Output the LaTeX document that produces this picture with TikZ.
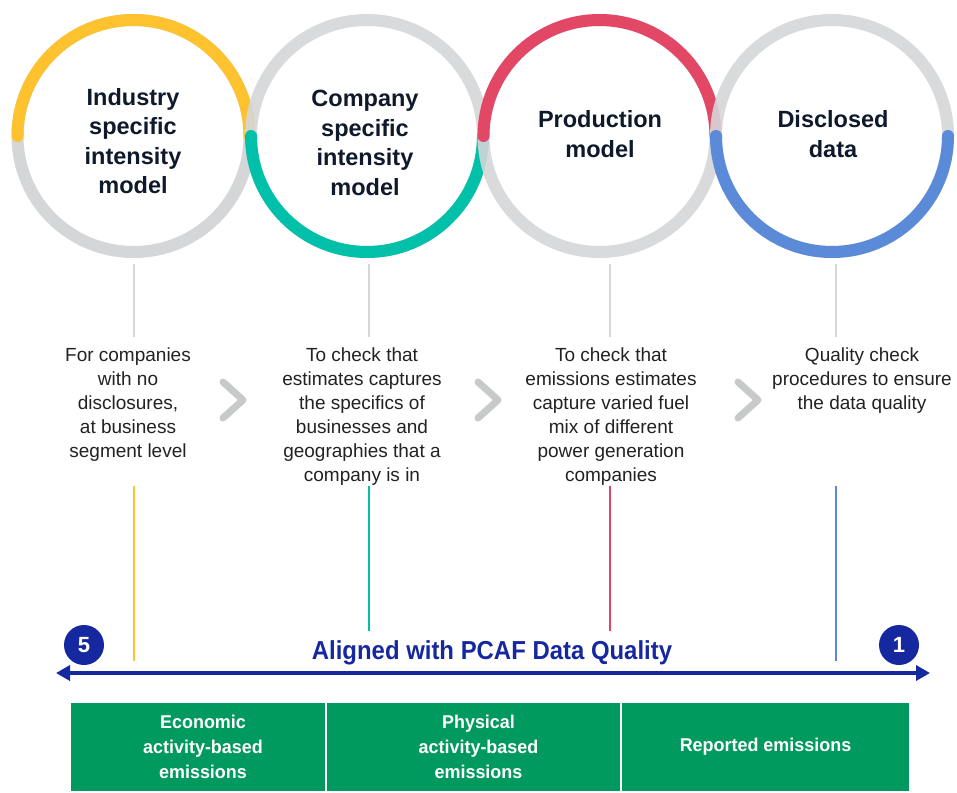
\documentclass[tikz,border=0pt]{standalone}
\usepackage{fontspec}
\setmainfont{Liberation Sans}
\newfontfamily\condbold[FakeStretch=0.92]{Liberation Sans Bold}
\newfontfamily\boxbold[FakeStretch=0.97]{Liberation Sans Bold}
\usetikzlibrary{arrows.meta}
\definecolor{ringgray}{HTML}{D5D6D8}
\definecolor{cyellow}{HTML}{FDC22E}
\definecolor{cteal}{HTML}{00C0AA}
\definecolor{cred}{HTML}{E34463}
\definecolor{cblue}{HTML}{5B8AD9}
\definecolor{titlec}{HTML}{0E1A2B}
\definecolor{bodyc}{HTML}{222222}
\definecolor{navy}{HTML}{1528A0}
\definecolor{cgreen}{HTML}{009A5E}
\definecolor{chevc}{HTML}{C8C9CB}
\tikzset{
  ring/.style={circle, draw=ringgray, line width=12pt, minimum size=232pt, inner sep=0pt},
  arcc/.style={line width=12pt, line cap=round},
  title/.style={align=center, text=titlec, font=\fontsize{23.5}{29.5}\selectfont\bfseries},
  body/.style={align=center, text=bodyc, font=\fontsize{19}{24}\selectfont},
  stem/.style={draw=ringgray, line width=2pt},
  cline/.style={line width=2pt},
  chev/.style={draw=chevc, line width=7pt, line cap=round, line join=round},
  numc/.style={circle, fill=navy, minimum size=40pt, inner sep=0pt, text=white, font=\fontsize{22}{22}\selectfont\bfseries},
  greenbox/.style={fill=cgreen, draw=white, line width=1.5pt, minimum height=90pt, text=white, align=center, font=\fontsize{18.5}{25}\selectfont\boxbold}
}
\begin{document}
\begin{tikzpicture}[x=1pt,y=-1pt]
\useasboundingbox (0,0) rectangle (957,792);
\fill[white] (0,0) rectangle (957,792);

% rings and coloured arcs
\node[ring] (r1) at (133.5,136) {};
\draw[arcc, cyellow] (r1.center) ++(180:116) arc[start angle=180, end angle=360, radius=116];
\node[ring, draw opacity=0.9] (r2) at (367,136) {};
\draw[arcc, cteal] (r2.center) ++(180:116) arc[start angle=180, end angle=0, radius=116];
\node[ring, draw opacity=0.9] (r3) at (599.5,136) {};
\draw[arcc, cred, opacity=0.97] (r3.center) ++(180:116) arc[start angle=180, end angle=360, radius=116];
\node[ring, draw opacity=0.9] (r4) at (832,136) {};
\draw[arcc, cblue] (r4.center) ++(180:116) arc[start angle=180, end angle=0, radius=116];

% titles
\node[title] (t1) at (133,141) {Industry\\specific\\intensity\\model};
\node[title] (t2) at (365,143) {Company\\specific\\intensity\\model};
\node[title] (t3) at (600,134) {Production\\model};
\node[title] (t4) at (833,134) {Disclosed\\data};

% body texts
\node[body] (b1) at (128,405) {For companies\\with no\\disclosures,\\at business\\segment level};
\node[body] (b2) at (362,417) {To check that\\estimates captures\\the specifics of\\businesses and\\geographies that a\\company is in};
\node[body] (b3) at (611,417) {To check that\\emissions estimates\\capture varied fuel\\mix of different\\power generation\\companies};
\node[body] (b4) at (862,381) {Quality check\\procedures to ensure\\the data quality};

% gray stems
\coordinate (s1a) at (134,264); \coordinate (s1b) at (134,337);
\coordinate (s2a) at (369,264); \coordinate (s2b) at (369,337);
\coordinate (s3a) at (610,264); \coordinate (s3b) at (610,337);
\coordinate (s4a) at (836,264); \coordinate (s4b) at (836,337);
\draw[stem] (s1a) -- (s1b);
\draw[stem] (s2a) -- (s2b);
\draw[stem] (s3a) -- (s3b);
\draw[stem] (s4a) -- (s4b);

% chevrons
\draw[chev] (223,382) -- (243,400) -- (223,418);
\draw[chev] (478,382) -- (498,400) -- (478,418);
\draw[chev] (738,382) -- (758,400) -- (738,418);

% coloured lines
\coordinate (y1a) at (134,486); \coordinate (y1b) at (134,661);
\coordinate (y2a) at (369,486); \coordinate (y2b) at (369,631);
\coordinate (y3a) at (610,486); \coordinate (y3b) at (610,631);
\coordinate (y4a) at (836,486); \coordinate (y4b) at (836,661);
\draw[cline, cyellow] (y1a) -- (y1b);
\draw[cline, cteal] (y2a) -- (y2b);
\draw[cline, cred] (y3a) -- (y3b);
\draw[cline, cblue] (y4a) -- (y4b);

% quality scale
\node[numc] (n5) at (84,645) {5};
\node[numc] (n1) at (899,645) {1};
\node[text=navy, font=\fontsize{26}{26}\selectfont\condbold] (aq) at (492,653) {Aligned with PCAF Data Quality};
\coordinate (aL) at (56,673);
\coordinate (aR) at (930,673);
\draw[navy, line width=4pt, {Triangle[length=14pt,width=15pt]}-{Triangle[length=14pt,width=15pt]}] (aL) -- (aR);

% green boxes
\node[greenbox, minimum width=256pt] (g1) at (198,747) {\hspace*{10pt}Economic\\\hspace*{10pt}activity-based\\\hspace*{10pt}emissions};
\node[greenbox, minimum width=295pt] (g2) at (473.5,747) {\hspace*{10pt}Physical\\\hspace*{10pt}activity-based\\\hspace*{10pt}emissions};
\node[greenbox, minimum width=289pt] (g3) at (765.5,747) {\raisebox{4pt}{Reported emissions}};
\end{tikzpicture}
\end{document}
